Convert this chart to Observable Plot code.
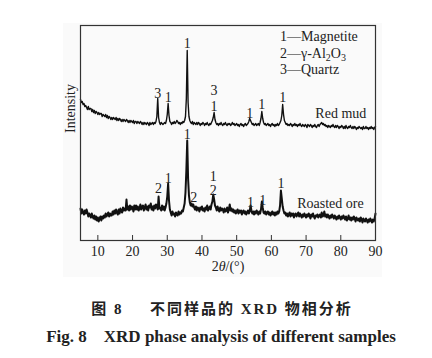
<!DOCTYPE html>
<html><head><meta charset="utf-8">
<script src="https://cdn.jsdelivr.net/npm/d3@7"></script>
<script src="https://cdn.jsdelivr.net/npm/@observablehq/plot@0.6"></script>
<style>
body{margin:0;background:#fff;}
#wrap{position:relative;width:432px;height:358px;font-family:"Liberation Serif","Times New Roman",serif;color:#222;}
#bg{position:absolute;left:63px;top:23px;width:319px;height:254px;background:#fafafa;}
#chart{position:absolute;left:0;top:0;}
#legend{position:absolute;left:280px;top:29px;font-size:14px;line-height:16.5px;color:#222;}
#legend sub{font-size:10px;line-height:0;vertical-align:-3px;}
#cap1{position:absolute;left:6px;top:299px;width:432px;text-align:center;font-family:"Liberation Serif","Noto Sans CJK SC",serif;font-weight:bold;font-size:15px;line-height:20px;letter-spacing:2px;color:#222;}
#cap2{position:absolute;left:5px;top:326px;width:432px;text-align:center;font-family:"Liberation Serif",serif;font-weight:bold;font-size:17px;line-height:22px;color:#222;white-space:nowrap;}
</style></head>
<body>
<div id="wrap">
  <div id="bg"></div>
  <div id="chart"></div>
  <div id="legend">1—Magnetite<br>2—γ-Al<sub>2</sub>O<sub>3</sub><br>3—Quartz</div>
  <div id="cap1">图 8&emsp;&ensp;不同样品的 XRD 物相分析</div>
  <div id="cap2">Fig. 8&emsp;XRD phase analysis of different samples</div>
</div>
<script>
// Scan grid (2θ, degrees)
const scanStart = 5;
const scanStep = 0.25;

// Intensities (arbitrary units), one value per 0.25° from 5° to 90°
const redMud = [
141,138,139,136, 137,134,135,133,
131,134,131,132, 132,129,131,128,
130,127,129,128, 126,128,126,127,
127,124,126,125, 124,126,123,125,
122,124,123,121, 123,121,123,122,
121,123,120,122, 120,122,121,119,
121,119,121,120, 119,121,120,118,
120,118,120,119, 118,120,117,119,
119,117,119,118, 117,119,118,116,
118,116,118,117, 116,118,117,115,
118,116,117,118, 116,118,117,119,
124,142,123,118, 116,118,117,116,
117,118,117,120, 126,137,125,119,
118,116,118,117, 119,117,118,120,
119,117,118,116, 118,117,119,118,
120,124,142,190, 138,124,120,118,
117,119,116,118, 117,116,118,116,
118,117,115,117, 116,118,117,115,
117,116,118,116, 115,117,116,118,
120,123,128,121, 118,116,117,115,
117,116,118,116, 115,117,116,118,
116,115,117,116, 117,115,116,118,
116,117,115,116, 117,115,116,114,
116,117,115,116, 114,116,117,115,
116,117,119,122, 120,118,116,117,
115,116,117,115, 116,117,115,118,
122,129,122,118, 116,117,115,116,
117,115,116,114, 116,117,115,116,
114,116,115,117, 115,116,118,120,
125,136,126,120, 118,116,117,115,
116,115,117,116, 114,116,115,117,
115,116,114,116, 115,117,115,114,
116,115,114,116, 115,113,116,115,
114,116,115,113, 115,114,116,114,
113,115,116,114, 116,117,118,116,
117,115,116,114, 115,113,115,114,
113,115,114,116, 114,113,115,113,
115,114,112,114, 113,115,114,112,
114,112,115,113, 112,114,113,115,
113,112,114,112, 114,113,111,113,
112,114,113,112, 113,111,114,112,
112,114,112,113, 111,113,112,114,
112,113,111,113,
114
];

const roastedOre = [
32,27,31,28, 26,30,27,31,
28,24,27,25, 23,27,24,22,
25,21,24,20, 23,19,22,24,
20,24,22,25, 23,27,24,26,
28,24,27,25, 25,29,26,30,
27,31,28,26, 31,27,32,29,
28,33,30,32, 30,41,31,34,
30,35,31,34, 33,29,35,31,
35,31,34,30, 32,36,31,34,
35,30,33,36, 31,34,30,35,
33,37,31,34, 30,35,32,36,
34,31,44,32, 33,30,35,31,
34,30,33,37, 44,57,40,31,
28,25,29,26, 27,24,28,26,
25,29,26,28, 27,30,29,33,
37,48,70,100, 62,45,38,35,
37,34,36,33, 31,34,30,33,
32,29,33,31, 34,30,32,29,
33,31,35,30, 32,34,31,36,
39,46,41,35, 33,30,34,31,
29,33,30,32, 31,28,32,29,
30,33,28,31, 36,30,32,29,
31,28,30,27, 29,31,27,30,
28,30,26,29, 30,27,29,26,
28,30,27,29, 35,30,27,29,
26,29,27,30, 28,26,29,27,
31,39,33,28, 27,29,26,28,
29,26,28,25, 27,29,26,28,
25,28,26,29, 27,29,35,50,
42,34,30,27, 28,25,27,24,
26,28,24,27, 25,27,23,26,
27,24,26,28, 24,27,25,23,
26,24,27,25, 23,26,24,27,
25,22,26,24, 27,24,22,25,
24,26,23,25, 26,23,28,24,
25,29,24,26, 23,26,24,22,
25,23,26,24, 22,25,23,21,
24,22,25,23, 21,24,22,25,
23,21,24,20, 22,25,21,23,
20,23,21,24, 22,19,23,21,
20,22,19,23, 21,18,22,20,
19,22,20,18, 21,19,22,20,
18,21,19,22,
27
];

// Peak labels (phase number, angle, label height)
const redMudPeakText   = ["3", "1", "1", "3", "1", "1", "1", "1"];
const redMudPeakAngle  = [27.25, 30.25, 35.75, 43.5, 43.5, 53.75, 57.25, 63.25];
const redMudPeakLevel  = [147, 143, 197, 150, 134, 127, 136, 143];

const roastedPeakText  = ["2", "1", "1", "2", "1", "2", "1", "1", "1"];
const roastedPeakAngle = [27.5, 30.25, 35.75, 37.6, 43.25, 43.25, 54.0, 57.5, 62.75];
const roastedPeakLevel = [52, 62, 106, 43, 64, 50, 38, 40, 57];

// Series names and label positions
const seriesNames  = ["Red mud", "Roasted ore"];
const seriesAngle  = [80, 77];
const seriesLevel  = [127, 37];

const xTicks = [10, 20, 30, 40, 50, 60, 70, 80, 90];
const xDomain = [5, 90];
const yDomain = [0, 215];

const toRows = (arr) => arr.map((v, i) => ({angle: scanStart + i * scanStep, value: v}));
const redRows = toRows(redMud);
const roastRows = toRows(roastedOre);
const redLabels = redMudPeakText.map((t, i) => ({t, x: redMudPeakAngle[i], y: redMudPeakLevel[i]}));
const roastLabels = roastedPeakText.map((t, i) => ({t, x: roastedPeakAngle[i], y: roastedPeakLevel[i]}));
const nameLabels = seriesNames.map((t, i) => ({t, x: seriesAngle[i], y: seriesLevel[i]}));

const W = 432, H = 280, mT = 25, mB = 40;
const plot = Plot.plot({
  width: W, height: H,
  marginLeft: 80, marginRight: 57, marginTop: mT, marginBottom: mB,
  style: {fontFamily: '"Liberation Serif","Times New Roman",serif', fontSize: "14px", background: "transparent", color: "#222"},
  x: {domain: xDomain, axis: null},
  y: {domain: yDomain, axis: null},
  marks: [
    Plot.line(redRows, {x: "angle", y: "value", stroke: "#111", strokeWidth: 1.4}),
    Plot.line(roastRows, {x: "angle", y: "value", stroke: "#111", strokeWidth: 2.0}),
    Plot.text(redLabels, {x: "x", y: "y", text: "t", fontSize: 14, fill: "#222"}),
    Plot.text(roastLabels, {x: "x", y: "y", text: "t", fontSize: 14, fill: "#222"}),
    Plot.text(nameLabels, {x: "x", y: "y", text: "t", fontSize: 14, fill: "#222"}),
    Plot.tickX(xTicks, {x: d => d, insetTop: H - mT - mB - 5, stroke: "#333"}),
    Plot.axisX({ticks: xTicks, tickSize: 0, tickPadding: 6, label: null, fontSize: 14}),
    Plot.text(["2θ/(°)"], {frameAnchor: "bottom", dy: 30, fontSize: 14, fill: "#222"}),
    Plot.text(["Intensity"], {frameAnchor: "left", rotate: -90, dx: -10, fontSize: 14, fill: "#222"}),
    Plot.frame({stroke: "#333", strokeWidth: 1.2})
  ]
});
document.getElementById("chart").appendChild(plot);
d3.select(plot).selectAll("text").filter(function(){ return this.textContent === "2θ/(°)"; })
  .each(function(){
    const t = d3.select(this);
    t.text(null);
    t.append("tspan").text("2");
    t.append("tspan").attr("font-style", "italic").text("θ");
    t.append("tspan").text("/(°)");
  });
</script>
</body></html>
